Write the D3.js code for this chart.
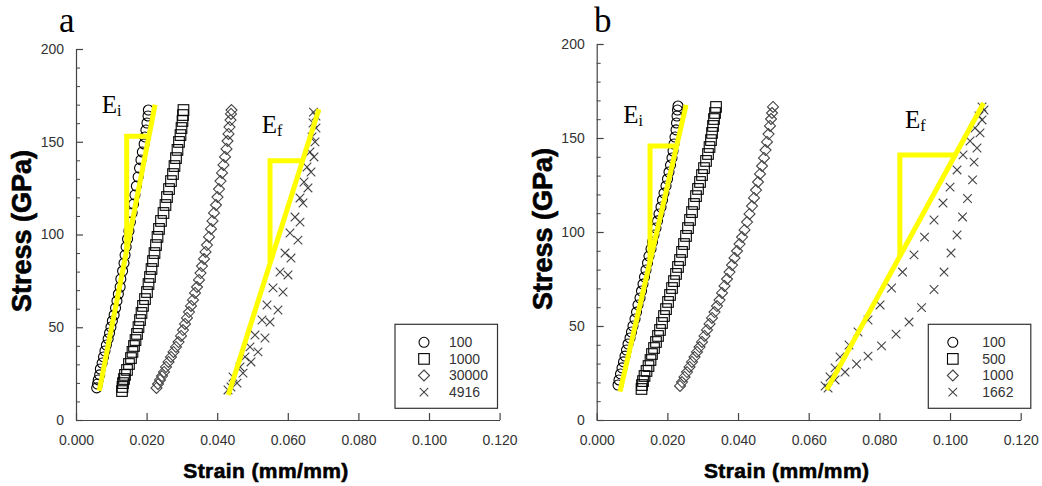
<!DOCTYPE html>
<html><head><meta charset="utf-8">
<script src="https://cdn.jsdelivr.net/npm/d3@7/dist/d3.min.js"></script>
<style>body{margin:0;background:#fff}svg{display:block}</style>
</head><body>
<svg id="c" width="1042" height="486"></svg>
<script>
// ---------- ticks ----------
const xTicks = [0, 0.02, 0.04, 0.06, 0.08, 0.10, 0.12];
const yTicks = [0, 50, 100, 150, 200];
const yMinorTicks = [10, 20, 30, 40, 60, 70, 80, 90, 110, 120, 130, 140, 160, 170, 180, 190];
const seriesNamesA = ["100", "1000", "30000", "4916"];
const seriesNamesB = ["100", "500", "1000", "1662"];

// ---------- panel a data [strain, stress] ----------
const aCircle = [[0.00586,17.3],[0.0061,19.4],[0.0063,21.6],[0.0067,24.3],[0.0069,27.5],[0.0074,30.7],[0.0078,34],[0.0082,37.2],[0.0086,40.4],[0.0091,43.7],[0.0095,46.9],[0.0099,50.1],[0.0103,53.4],[0.0108,56.6],[0.0112,60.4],[0.0116,64.2],[0.0120,67.9],[0.0125,71.7],[0.0127,76],[0.0132,80.3],[0.0136,84.6],[0.0139,88.9],[0.0142,93.3],[0.0146,97.6],[0.0150,101.9],[0.0154,106.7],[0.0159,111.6],[0.0163,116.4],[0.0167,121.3],[0.0171,126.1],[0.0176,131],[0.0180,135.8],[0.0184,140.2],[0.0188,144.5],[0.0193,148.8],[0.0195,152.6],[0.0198,156.3],[0.0201,160.1],[0.0204,163.9],[0.0205,167.1]];
const aSquare = [[0.01303,15.6],[0.01317,17.8],[0.01331,19.9],[0.0136,22.1],[0.01388,24.3],[0.01445,27.0],[0.01501,30.2],[0.01558,33.4],[0.016,36.7],[0.01643,39.9],[0.01686,43.1],[0.01728,46.4],[0.0177,50.1],[0.01813,53.9],[0.01856,57.7],[0.01898,61.5],[0.01955,65.2],[0.02011,69.0],[0.02054,73.3],[0.02096,77.1],[0.02139,81.4],[0.02181,85.7],[0.02224,90.0],[0.02266,94.3],[0.02309,98.7],[0.02351,103.0],[0.02408,107.3],[0.02479,111.6],[0.02535,115.9],[0.02578,120.2],[0.02635,124.5],[0.02691,128.8],[0.02748,132.6],[0.0279,136.9],[0.02833,141.2],[0.02875,145.6],[0.02918,149.9],[0.0296,153.6],[0.02989,157.4],[0.03017,161.2],[0.03031,164.4],[0.03045,167.1]];
const aDiamond = [[0.0228,17.3],[0.02323,19.4],[0.0238,21.6],[0.02436,23.7],[0.02493,25.9],[0.0255,28.6],[0.0262,31.3],[0.02691,34.0],[0.02762,36.7],[0.02833,39.4],[0.02904,42.0],[0.02975,45.3],[0.03031,48.5],[0.03088,51.8],[0.03144,55.0],[0.03201,58.2],[0.03258,61.5],[0.03314,64.7],[0.03371,68.5],[0.03428,71.7],[0.03484,75.5],[0.03527,79.2],[0.03569,83.0],[0.03626,86.8],[0.03669,90.6],[0.03711,94.3],[0.03768,98.7],[0.03824,103.0],[0.03867,107.3],[0.03909,111.6],[0.03966,115.9],[0.04008,120.2],[0.04051,124.5],[0.04093,128.8],[0.04136,133.2],[0.04178,137.5],[0.04221,141.8],[0.04263,146.1],[0.04292,150.4],[0.0432,154.2],[0.04348,157.9],[0.04377,161.7],[0.04391,165.0],[0.04405,167.1]];
const aCross = [[0.04306,16.2],[0.04448,23.2],[0.04646,28.6],[0.04788,34.0],[0.04929,39.4],[0.05071,45.8],[0.05269,53.9],[0.05411,62.0],[0.05581,71.2],[0.05779,79.8],[0.05921,90.0],[0.06062,100.8],[0.06204,109.4],[0.06346,119.7],[0.06459,128.3],[0.06544,136.4],[0.06629,144.5],[0.06686,152.6],[0.06714,160.1],[0.06728,166.0],
  [0.04391,17.8],[0.04561,19.9],[0.04731,25.3],[0.04958,31.3],[0.05156,36.7],[0.05354,44.2],[0.05496,52.8],[0.05722,59.3],[0.05864,69.0],[0.06006,78.2],[0.06091,87.3],[0.06289,97.0],[0.06346,106.7],[0.06431,117.0],[0.06572,125.1],[0.06657,133.7],[0.06742,141.8],[0.06771,149.9],[0.06799,157.4],[0.06799,163.9]];

// ---------- panel b data ----------
const bCircle = [[0.00603,18.6],[0.00631,21.3],[0.00674,24.5],[0.00716,27.7],[0.00759,30.9],[0.00801,34.0],[0.00843,37.2],[0.00886,40.4],[0.00943,43.6],[0.00985,46.8],[0.01027,50.0],[0.01084,53.7],[0.01127,57.4],[0.01169,61.2],[0.01226,64.9],[0.01268,68.6],[0.0131,72.3],[0.01353,76.1],[0.01395,79.8],[0.01438,83.5],[0.0148,87.2],[0.01537,91.0],[0.01579,94.7],[0.01622,98.4],[0.01678,102.1],[0.01721,105.9],[0.01763,109.6],[0.0182,113.3],[0.01862,117.0],[0.01905,120.7],[0.01962,124.5],[0.02004,128.2],[0.02046,131.9],[0.02089,135.6],[0.02131,139.4],[0.0216,143.1],[0.02188,146.8],[0.02216,150.5],[0.02245,154.3],[0.02259,158.0],[0.02273,161.7],[0.02287,164.9],[0.02301,167.0]];
const bSquare = [[0.01268,16.5],[0.01282,18.6],[0.01311,20.7],[0.01353,23.4],[0.0141,26.1],[0.01466,28.7],[0.01523,31.9],[0.01565,35.1],[0.01622,38.3],[0.01678,41.5],[0.01735,44.7],[0.01792,47.9],[0.01849,51.6],[0.01905,55.3],[0.01962,59.0],[0.02019,62.8],[0.02075,66.5],[0.02132,70.2],[0.02188,73.9],[0.02245,77.7],[0.02301,81.4],[0.02358,85.1],[0.02415,89.4],[0.02471,93.6],[0.02528,97.9],[0.02584,102.1],[0.02641,106.4],[0.02698,110.6],[0.02754,114.9],[0.02811,119.1],[0.02867,122.9],[0.02924,126.6],[0.02981,130.3],[0.03037,134.0],[0.03094,137.8],[0.0315,141.5],[0.03193,145.2],[0.03235,148.9],[0.03264,152.7],[0.03292,156.4],[0.0332,160.1],[0.03349,163.3],[0.03377,166.5]];
const bDiamond = [[0.02358,18.1],[0.02415,20.2],[0.02485,22.9],[0.02556,25.5],[0.02627,28.2],[0.02697,30.9],[0.02768,33.5],[0.02839,36.2],[0.0291,38.8],[0.0298,41.5],[0.03051,44.7],[0.03122,47.9],[0.03193,51.1],[0.03263,54.3],[0.03334,57.4],[0.03405,60.6],[0.03476,63.8],[0.03547,67.6],[0.03617,71.3],[0.03688,75.0],[0.03759,78.7],[0.0383,82.4],[0.039,86.2],[0.03971,89.9],[0.04042,93.6],[0.04113,97.3],[0.04183,101.1],[0.04254,105.3],[0.04325,109.6],[0.04396,113.8],[0.04452,118.1],[0.04509,122.3],[0.04565,126.6],[0.04622,130.9],[0.04679,135.1],[0.04735,139.4],[0.04778,143.6],[0.0482,147.9],[0.04863,152.1],[0.04905,156.4],[0.04934,160.1],[0.04962,163.3],[0.0499,166.5]];
const bCross = [[0.06463,18.1],[0.06604,22.9],[0.06745,27.7],[0.06887,33.5],[0.07141,39.9],[0.07396,46.8],[0.07679,53.2],[0.08019,61.2],[0.08344,70.2],[0.08656,78.7],[0.08981,87.8],[0.09278,97.3],[0.09547,106.4],[0.09802,115.4],[0.1,123.9],[0.10198,133.0],[0.10368,141.0],[0.10566,148.4],[0.10707,155.3],[0.1082,161.7],[0.10906,166.5],
  [0.06548,17.0],[0.06745,21.3],[0.07028,25.5],[0.07354,29.8],[0.07679,34.0],[0.08061,39.4],[0.08472,45.7],[0.0884,52.1],[0.09194,59.8],[0.09547,69.4],[0.0983,78.7],[0.10028,88.8],[0.10198,98.4],[0.10354,108.0],[0.10495,117.8],[0.10637,127.7],[0.10679,137.2],[0.10764,144.7],[0.10849,152.7],[0.10906,159.6],[0.10962,164.9]];

// ---------- yellow modulus guide lines ----------
const aEiLine = [[0.0066,15.8],[0.0224,170]];
const aEiTri  = [[0.01436,91.5],[0.01436,153],[0.0207,153]];
const aEfLine = [[0.04315,13.5],[0.0688,167.5]];
const aEfTri  = [[0.05496,85.3],[0.05496,139.8],[0.0640,139.8]];
const bEiLine = [[0.0066,15.1],[0.0253,167.6]];
const bEiTri  = [[0.01509,84],[0.01509,145.7],[0.0224,145.7]];
const bEfLine = [[0.0651,16],[0.1095,168.6]];
const bEfTri  = [[0.0858,87.1],[0.0858,141],[0.1015,141]];

// annotation anchors [strain, stress]
const aEiPos = [0.00728,165.3], aEfPos = [0.0526,154.6];
const bEiPos = [0.00753,157.8], bEfPos = [0.08726,155.2];

const shapes = ["circle","square","diamond","cross"];
const svg = d3.select("#c");
svg.append("rect").attr("width",1042).attr("height",486).attr("fill","#fff");

function drawShape(g, shape){
  if(shape==="circle") g.append("circle").attr("r",5).attr("fill","none").attr("stroke","#000").attr("stroke-width",1.1);
  else if(shape==="square") g.append("rect").attr("x",-5.3).attr("y",-5.3).attr("width",10.6).attr("height",10.6).attr("fill","none").attr("stroke","#000").attr("stroke-width",1.1);
  else if(shape==="diamond") g.append("path").attr("d","M0,-5.5L5.5,0L0,5.5L-5.5,0Z").attr("fill","none").attr("stroke","#444").attr("stroke-width",1.1);
  else g.append("path").attr("d","M-4.3,-4.3L4.3,4.3M-4.3,4.3L4.3,-4.3").attr("fill","none").attr("stroke","#444").attr("stroke-width",1.1);
}

function panel(cfg){
  const x = d3.scaleLinear().domain([0,0.12]).range([cfg.x0,cfg.x1]);
  const y = d3.scaleLinear().domain([0,200]).range([420,cfg.yTop]);
  const g = svg.append("g");

  // minor y ticks
  const ym = g.append("g").attr("transform",`translate(${cfg.x0},0)`)
    .call(d3.axisLeft(y).tickValues(yMinorTicks).tickSize(-4).tickSizeOuter(0).tickFormat(""));
  ym.select(".domain").remove();
  ym.selectAll("line").attr("stroke","#444");

  const ya = g.append("g").attr("transform",`translate(${cfg.x0},0)`)
    .call(d3.axisLeft(y).tickValues(yTicks).tickSize(-7).tickSizeOuter(0).tickPadding(12).tickFormat(d3.format("d")));
  const xa = g.append("g").attr("transform",`translate(0,420)`)
    .call(d3.axisBottom(x).tickValues(xTicks).tickSize(-7).tickSizeOuter(0).tickPadding(15).tickFormat(d3.format(".3f")));
  [ya,xa].forEach(a=>{
    a.select(".domain").attr("stroke","#444").attr("stroke-width",1.2);
    a.selectAll("line").attr("stroke","#444").attr("stroke-width",1.2);
    a.selectAll("text").attr("font-family","Liberation Sans, Arial, sans-serif").attr("font-size",14).attr("fill","#333");
  });

  // markers
  cfg.series.forEach((s,i)=>{
    s.forEach(d=>{
      const m = g.append("g").attr("transform",`translate(${x(d[0])},${y(d[1])})`);
      drawShape(m, shapes[i]);
    });
  });

  // yellow lines
  const line = d3.line().x(d=>x(d[0])).y(d=>y(d[1]));
  cfg.yellow.forEach(p=>{
    g.append("path").attr("d",line(p)).attr("fill","none").attr("stroke","#ffff00")
      .attr("stroke-width",5).attr("stroke-linejoin","miter");
  });

  // E labels
  cfg.eLabels.forEach(l=>{
    const t = g.append("text").attr("x",x(l.pos[0])).attr("y",y(l.pos[1]))
      .attr("font-family","Liberation Serif, Times New Roman, serif").attr("font-size",25).attr("fill","#000");
    t.append("tspan").text("E");
    t.append("tspan").attr("font-size",16).attr("dy",3).text(l.sub);
  });

  // legend
  const lg = g.append("g").attr("transform",`translate(${cfg.legendX},324.3)`);
  lg.append("rect").attr("width",102.5).attr("height",84).attr("fill","#fff").attr("stroke","#333").attr("stroke-width",1.2);
  cfg.names.forEach((n,i)=>{
    const row = lg.append("g").attr("transform",`translate(0,${18+i*16.6})`);
    const sg = row.append("g").attr("transform",`translate(${cfg.legendSym},0)`);
    drawShape(sg, shapes[i]);
    row.append("text").attr("x",54).attr("y",0).attr("dy","0.35em")
      .attr("font-family","Liberation Sans, Arial, sans-serif").attr("font-size",14).attr("fill","#333").text(n);
  });

  // axis titles
  g.append("text").attr("x",cfg.x0+190).attr("y",478).attr("text-anchor","middle")
    .attr("font-family","Liberation Sans, Arial, sans-serif").attr("font-weight","bold")
    .attr("font-size",21).attr("letter-spacing",0.4).attr("fill","#000")
    .attr("stroke","#000").attr("stroke-width",0.6).text("Strain (mm/mm)");
  g.append("text").attr("transform",`translate(${cfg.x0-45},${cfg.yMid}) rotate(-90)`).attr("text-anchor","middle")
    .attr("font-family","Liberation Sans, Arial, sans-serif").attr("font-weight","bold")
    .attr("font-size",27).attr("fill","#000").attr("stroke","#000").attr("stroke-width",0.6).text("Stress (GPa)");

  // panel letter
  g.append("text").attr("x",cfg.letterX).attr("y",32).attr("font-family","Liberation Serif, Times New Roman, serif")
    .attr("font-size",35).attr("fill","#000").text(cfg.letter);
}

panel({x0:76, x1:499.6, yTop:49, yMid:231, legendX:395, legendSym:29, letter:"a", letterX:59,
  series:[aCircle,aSquare,aDiamond,aCross], names:seriesNamesA,
  yellow:[aEiLine,aEiTri,aEfLine,aEfTri],
  eLabels:[{pos:aEiPos,sub:"i"},{pos:aEfPos,sub:"f"}]});
panel({x0:596.7, x1:1020.7, yTop:44, yMid:229, legendX:928.3, legendSym:24.5, letter:"b", letterX:594,
  series:[bCircle,bSquare,bDiamond,bCross], names:seriesNamesB,
  yellow:[bEiLine,bEiTri,bEfLine,bEfTri],
  eLabels:[{pos:bEiPos,sub:"i"},{pos:bEfPos,sub:"f"}]});
</script>
</body></html>
